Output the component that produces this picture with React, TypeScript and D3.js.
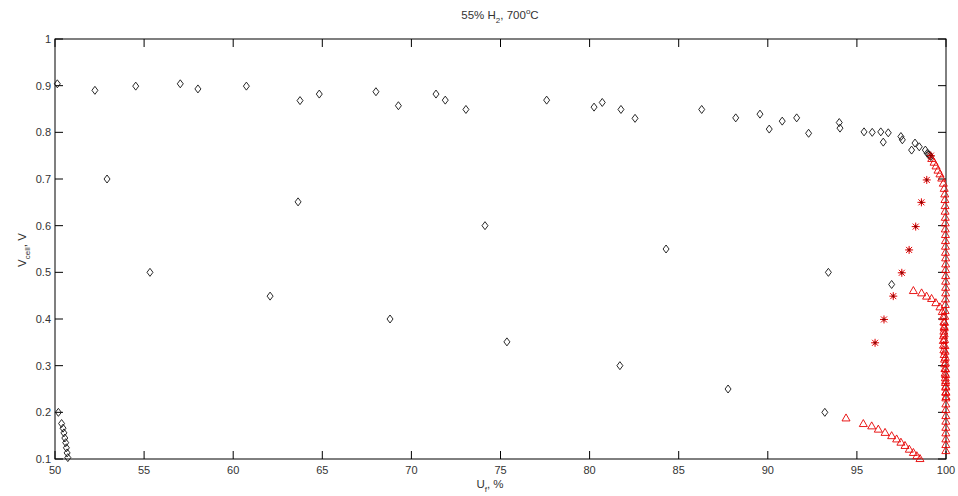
import React from "react";
import * as d3 from "d3";

const W = 958, H = 496;
const M = { left: 55, right: 946, top: 39, bottom: 459 };

const xTicks = [50, 55, 60, 65, 70, 75, 80, 85, 90, 95, 100];
const yTicks = [0.1, 0.2, 0.3, 0.4, 0.5, 0.6, 0.7, 0.8, 0.9, 1];

// black diamonds
const diamondX = [50.13, 52.24, 54.53, 57.03, 58.02, 60.74, 63.75, 64.83, 68.01, 69.27, 71.38, 71.9, 73.06, 77.59, 80.25, 80.71, 81.76, 82.55, 86.29, 88.2, 89.56, 90.08, 90.81, 91.62, 92.29, 94.01, 94.05, 95.4, 95.86, 96.34, 96.48, 96.76, 97.47, 97.55, 98.07, 98.26, 98.5, 98.84, 98.95, 99.05, 99.1, 99.15,
  50.19, 50.37, 50.45, 50.5, 50.55, 50.6, 50.64, 50.68, 50.72,
  52.92, 55.33, 62.07, 63.64, 68.8, 74.13, 75.36, 81.7, 84.29, 87.77, 93.2, 93.4, 96.95];
const diamondY = [0.904, 0.89, 0.899, 0.904, 0.893, 0.899, 0.868, 0.882, 0.887, 0.857, 0.882, 0.869, 0.849, 0.869, 0.854, 0.864, 0.849, 0.83, 0.849, 0.831, 0.839, 0.807, 0.824, 0.831, 0.798, 0.821, 0.809, 0.801, 0.8, 0.801, 0.779, 0.799, 0.791, 0.784, 0.762, 0.777, 0.769, 0.762, 0.755, 0.752, 0.75, 0.748,
  0.2, 0.176, 0.166, 0.156, 0.145, 0.135, 0.124, 0.113, 0.103,
  0.7, 0.5, 0.449, 0.651, 0.4, 0.6, 0.351, 0.3, 0.55, 0.25, 0.2, 0.5, 0.474];

// red asterisks
const starX = [96.02, 96.52, 97.04, 97.52, 97.93, 98.3, 98.62, 98.92, 99.15];
const starY = [0.349, 0.399, 0.449, 0.499, 0.548, 0.598, 0.65, 0.698, 0.75];

// red triangles: upper branch, curving onto x = 100
const triUpperX = [99.2, 99.33, 99.44, 99.55, 99.66, 99.76, 99.85, 99.9,
  99.93, 99.94, 99.95, 99.95, 99.96, 99.96, 99.96, 99.97, 99.97, 99.97, 99.97, 99.98, 99.98, 99.98, 99.98, 99.98, 99.98, 99.98, 99.97, 99.96, 99.95, 99.93, 99.92, 99.9, 99.9, 99.92, 99.94, 99.95, 99.96, 99.97, 99.98, 99.98, 99.98, 99.99, 99.99, 99.99, 99.99, 99.99, 99.99, 99.99, 99.99, 99.99, 99.99, 99.99, 99.99];
const triUpperY = [0.744, 0.736, 0.728, 0.719, 0.711, 0.702, 0.691, 0.68,
  0.668, 0.656, 0.643, 0.631, 0.618, 0.606, 0.593, 0.581, 0.568, 0.556, 0.543, 0.531, 0.518, 0.506, 0.493, 0.481, 0.468, 0.456, 0.443, 0.431, 0.418, 0.406, 0.393, 0.381, 0.368, 0.356, 0.343, 0.331, 0.318, 0.306, 0.293, 0.281, 0.268, 0.256, 0.243, 0.231, 0.218, 0.206, 0.193, 0.181, 0.168, 0.156, 0.143, 0.131, 0.118, 0.106];
// middle branch
const triMidX = [98.17, 98.63, 98.91, 99.19, 99.43, 99.66, 99.79, 99.84, 99.88, 99.9, 99.88, 99.86, 99.85, 99.86, 99.88, 99.9, 99.92, 99.93, 99.94, 99.95, 99.96, 99.97, 99.98, 99.99, 100.0];
const triMidY = [0.461, 0.456, 0.449, 0.444, 0.435, 0.426, 0.416, 0.405, 0.394, 0.384, 0.374, 0.364, 0.354, 0.344, 0.334, 0.324, 0.314, 0.304, 0.294, 0.284, 0.274, 0.264, 0.254, 0.244, 0.234];
// lower branch
const triLowX = [94.39, 95.36, 95.83, 96.2, 96.58, 96.95, 97.23, 97.47, 97.7, 97.94, 98.17, 98.36, 98.54];
const triLowY = [0.188, 0.176, 0.171, 0.164, 0.157, 0.15, 0.143, 0.136, 0.129, 0.121, 0.114, 0.107, 0.101];

const x = d3.scaleLinear().domain([50, 100]).range([M.left, M.right]);
const y = d3.scaleLinear().domain([0.1, 1]).range([M.bottom, M.top]);

const FONT = "Liberation Sans, Arial, Helvetica, sans-serif";
const RED = "#e60000";
const TXT = "#333";

const zip = (a: number[], b: number[]) => a.map((v, i) => [v, b[i]] as [number, number]);

const diamondPath = "M0,-4L3,0L0,4L-3,0Z";
const triPath = "M0,-4L4,3L-4,3Z";

export default function App() {
  const diamonds = zip(diamondX, diamondY);
  const stars = zip(starX, starY);
  const tris = [...zip(triUpperX, triUpperY), ...zip(triMidX, triMidY), ...zip(triLowX, triLowY)];
  const tl = 8;
  return (
    <svg width={W} height={H} style={{ position: "fixed", left: 0, top: 0, background: "#fff" }} fontFamily={FONT}>
      <rect x={0} y={0} width={W} height={H} fill="#fff" />
      {xTicks.map((t) => (
        <g key={"xt" + t}>
          <line x1={x(t)} x2={x(t)} y1={M.bottom} y2={M.bottom - tl} stroke="#000" />
          <line x1={x(t)} x2={x(t)} y1={M.top} y2={M.top + tl} stroke="#000" />
          <text x={x(t)} y={M.bottom + 15} fontSize={11} textAnchor="middle" fill={TXT}>{t}</text>
        </g>
      ))}
      {yTicks.map((t) => (
        <g key={"yt" + t}>
          <line x1={M.left} x2={M.left + tl} y1={y(t)} y2={y(t)} stroke="#000" />
          <line x1={M.right} x2={M.right - tl} y1={y(t)} y2={y(t)} stroke="#000" />
          <text x={M.left - 4} y={y(t) + 4} fontSize={11} textAnchor="end" fill={TXT}>{t}</text>
        </g>
      ))}
      <rect x={M.left} y={M.top} width={M.right - M.left} height={M.bottom - M.top} fill="none" stroke="#000" strokeWidth={1} />
      {diamonds.map(([a, b], i) => (
        <path key={"d" + i} d={diamondPath} transform={`translate(${x(a)},${y(b)})`} fill="none" stroke="#111" strokeWidth={0.9} />
      ))}
      {tris.map(([a, b], i) => (
        <path key={"t" + i} d={triPath} transform={`translate(${x(a)},${y(b)})`} fill="none" stroke={RED} strokeWidth={0.9} />
      ))}
      {stars.map(([a, b], i) => (
        <g key={"s" + i} transform={`translate(${x(a)},${y(b)})`} stroke={RED} strokeWidth={1}>
          <line x1={-4} x2={4} y1={0} y2={0} />
          <line x1={0} x2={0} y1={-4} y2={4} />
          <line x1={-3} x2={3} y1={-3} y2={3} />
          <line x1={-3} x2={3} y1={3} y2={-3} />
          <line x1={-2} x2={2} y1={0} y2={0} stroke="#700" strokeWidth={0.8} />
          <line x1={0} x2={0} y1={-2} y2={2} stroke="#700" strokeWidth={0.8} />
        </g>
      ))}
      <text x={500} y={19} fontSize={11.5} textAnchor="middle" fill={TXT}>
        55% H<tspan fontSize={8} dy={4}>2</tspan><tspan dy={-4}>, 700</tspan><tspan fontSize={8} dy={-5}>o</tspan><tspan dy={5}>C</tspan>
      </text>
      <text x={490} y={488} fontSize={11.5} textAnchor="middle" fill={TXT}>
        U<tspan fontSize={8} dy={4}>f</tspan><tspan dy={-4}>, %</tspan>
      </text>
      <text transform="translate(26,250) rotate(-90)" fontSize={11.5} textAnchor="middle" fill={TXT}>
        V<tspan fontSize={8} dy={4}>cell</tspan><tspan dy={-4}>, V</tspan>
      </text>
    </svg>
  );
}
